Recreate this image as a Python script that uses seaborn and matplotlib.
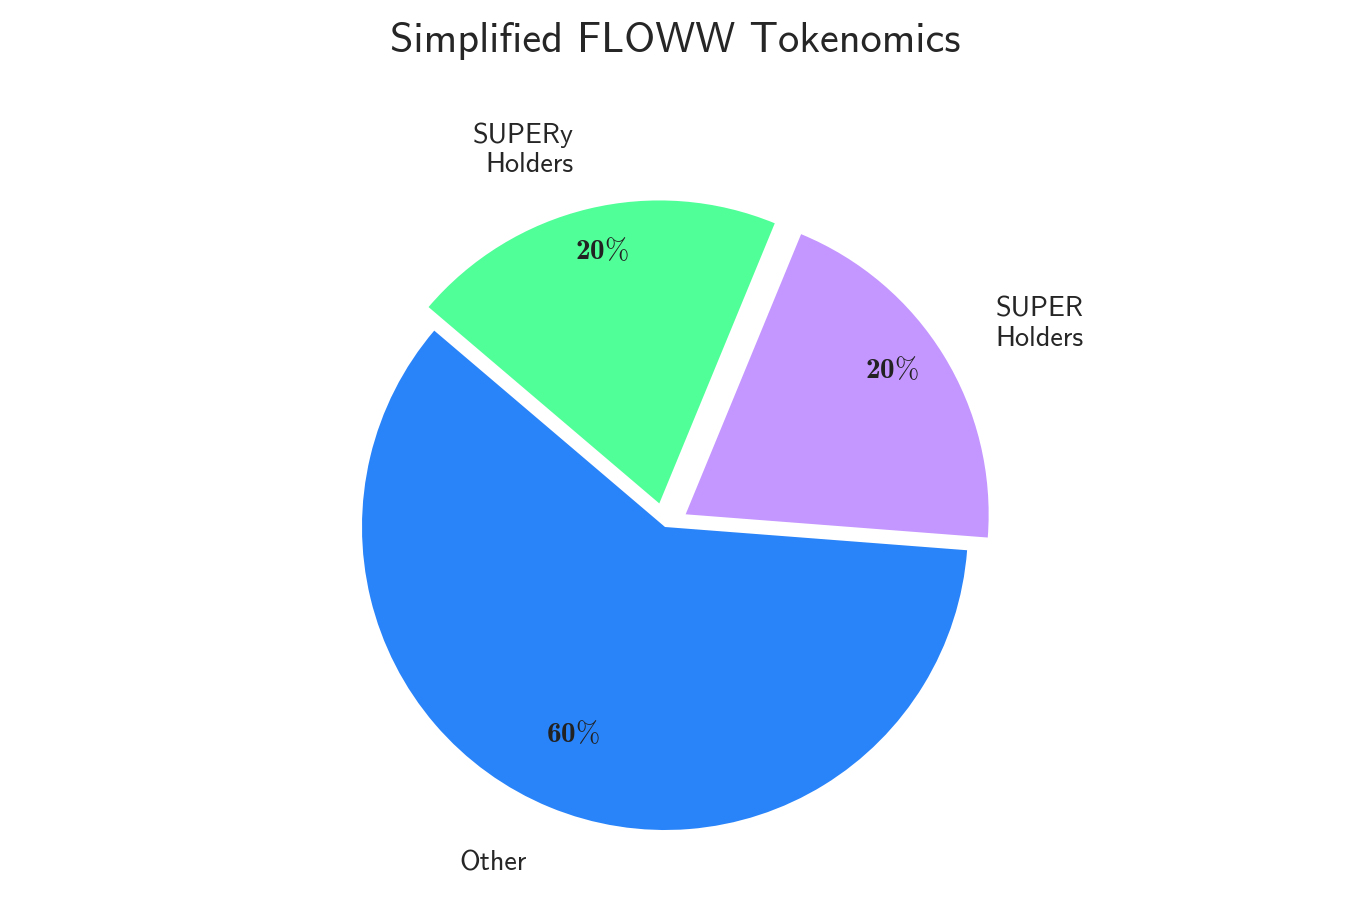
import numpy as np
import matplotlib
matplotlib.use("Agg")
import matplotlib.pyplot as plt
import seaborn as sns

# data
labels = ["SUPER\nHolders", "SUPERy\nHolders", "Other"]
shares = [20, 20, 60]
explode = [0.08, 0.08, 0.0]
colors = ["#C496FF", "#50FF98", "#2983F9"]

sns.set_theme(style="white")
plt.rcParams["font.family"] = ["cmss10", "DejaVu Sans"]
plt.rcParams["mathtext.fontset"] = "custom"
plt.rcParams["mathtext.bf"] = "cmb10"
plt.rcParams["mathtext.rm"] = "cmr10"
plt.rcParams["axes.unicode_minus"] = False

fig = plt.figure(figsize=(9, 6), dpi=150)
# axes placed so that the pie radius is ~303 px
r_px = 303
cx, cy = 665, 527
ax = fig.add_axes([(cx - 1.5 * r_px) / 1350, (900 - cy - 1.2 * r_px) / 900,
                   3 * r_px / 1350, 2.4 * r_px / 900])

wedges, texts, autotexts = ax.pie(
    shares,
    labels=labels,
    explode=explode,
    colors=colors,
    startangle=-4.4,
    labeldistance=1.2,
    pctdistance=0.8,
    autopct=lambda p: rf"$\mathbf{{{p:.0f}}}\%$",
    textprops={"fontsize": 13.5, "color": "#262626"},
    wedgeprops={"linewidth": 0},
)
for t in autotexts:
    t.set_fontsize(14)
    t.set_color("#222222")
    x, y = t.get_position()
    t.set_position((x, y + 0.055))

ax.set_xlim(-1.5, 1.5)
ax.set_ylim(-1.2, 1.2)
ax.set_aspect("equal")
ax.axis("off")

fig.suptitle("Simplified FLOWW Tokenomics", fontsize=20.3, y=1 - 41 / 900,
             va="center", color="#262626")

fig.savefig("out.png", dpi=150)
